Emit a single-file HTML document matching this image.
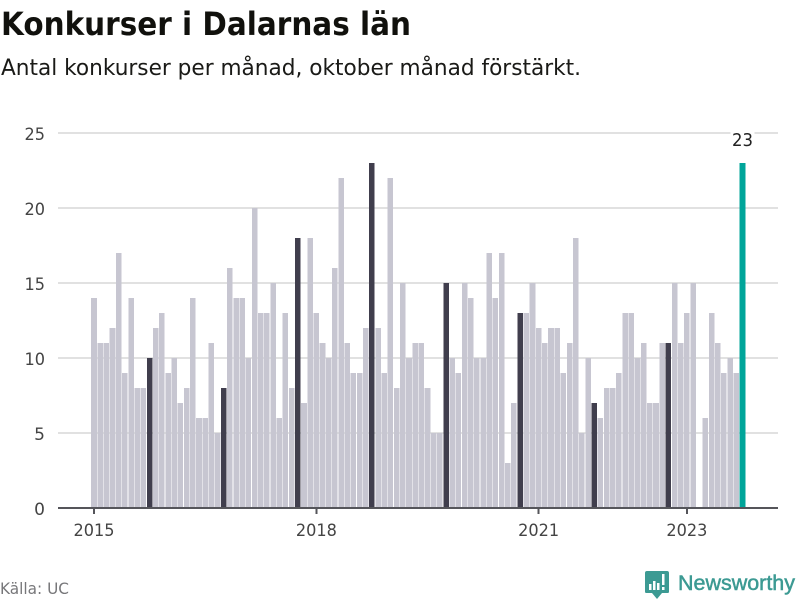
<!DOCTYPE html>
<html lang="sv">
<head>
<meta charset="utf-8">
<title>Konkurser i Dalarnas län</title>
<style>
  html, body { margin: 0; padding: 0; background: #fff; }
  svg { display: block; font-family: "DejaVu Sans", "Liberation Sans", sans-serif; }
</style>
</head>
<body>
<svg id="chart" xmlns="http://www.w3.org/2000/svg" width="800" height="600" viewBox="0 0 800 600">
  <rect width="800" height="600" fill="#ffffff"/>
  <text x="1" y="35" font-size="32" font-weight="700" fill="#11110d" textLength="410" lengthAdjust="spacingAndGlyphs">Konkurser i Dalarnas län</text>
  <text x="1" y="75" font-size="22.5" fill="#1a1a17" textLength="580" lengthAdjust="spacingAndGlyphs">Antal konkurser per månad, oktober månad förstärkt.</text>
  <g id="grid"></g>
  <g id="y-axis"></g>
  <g id="bars"></g>
  <g id="x-axis"></g>
  <g id="labels"></g>
  <text x="0" y="594" font-size="16" fill="#77777a" textLength="69" lengthAdjust="spacingAndGlyphs">Källa: UC</text>
  <g>
    <path d="M647 571 H667 Q669 571 669 573 V592 Q669 593 667 593 H662 L657 599 L652 593 H647 Q645 593 645 592 V573 Q645 571 647 571 Z" fill="#3c9a93"/>
    <rect x="649" y="584" width="2.5" height="6" fill="#ffffff"/>
    <rect x="653" y="581" width="2.5" height="9" fill="#ffffff"/>
    <rect x="657" y="583" width="2.5" height="7" fill="#ffffff"/>
    <rect x="662" y="574" width="2.5" height="11" fill="#ffffff"/>
    <rect x="662" y="587" width="2.5" height="3" fill="#ffffff"/>
    <text x="678" y="590" font-size="21" font-weight="500" fill="#3c9a93" stroke="#3c9a93" stroke-width="0.5" font-family="'Liberation Sans', sans-serif" textLength="117" lengthAdjust="spacingAndGlyphs">Newsworthy</text>
  </g>
</svg>
<script>
var months = [
  "2015-01","2015-02","2015-03","2015-04","2015-05","2015-06","2015-07","2015-08","2015-09","2015-10","2015-11","2015-12",
  "2016-01","2016-02","2016-03","2016-04","2016-05","2016-06","2016-07","2016-08","2016-09","2016-10","2016-11","2016-12",
  "2017-01","2017-02","2017-03","2017-04","2017-05","2017-06","2017-07","2017-08","2017-09","2017-10","2017-11","2017-12",
  "2018-01","2018-02","2018-03","2018-04","2018-05","2018-06","2018-07","2018-08","2018-09","2018-10","2018-11","2018-12",
  "2019-01","2019-02","2019-03","2019-04","2019-05","2019-06","2019-07","2019-08","2019-09","2019-10","2019-11","2019-12",
  "2020-01","2020-02","2020-03","2020-04","2020-05","2020-06","2020-07","2020-08","2020-09","2020-10","2020-11","2020-12",
  "2021-01","2021-02","2021-03","2021-04","2021-05","2021-06","2021-07","2021-08","2021-09","2021-10","2021-11","2021-12",
  "2022-01","2022-02","2022-03","2022-04","2022-05","2022-06","2022-07","2022-08","2022-09","2022-10","2022-11","2022-12",
  "2023-01","2023-02","2023-03","2023-04","2023-05","2023-06","2023-07","2023-08","2023-09","2023-10"
];
var bankruptcies = [
  14,11,11,12,17,9,14,8,8,10,12,13,
  9,10,7,8,14,6,6,11,5,8,16,14,
  14,10,20,13,13,15,6,13,8,18,7,18,
  13,11,10,16,22,11,9,9,12,23,12,9,
  22,8,15,10,11,11,8,5,5,15,10,9,
  15,14,10,10,17,14,17,3,7,13,13,15,
  12,11,12,12,9,11,18,5,10,7,6,8,
  8,9,13,13,10,11,7,7,11,11,15,11,
  13,15,0,6,13,11,9,10,9,23
];
var yTickValues = [0, 5, 10, 15, 20, 25];
var xTickMonths = ["2015-01", "2018-01", "2021-01", "2023-01"];
var xTickLabels = ["2015", "2018", "2021", "2023"];

var SVGNS = "http://www.w3.org/2000/svg";
var plotLeft = 58, plotRight = 778, plotBottom = 508;
var firstCenter = 94, monthStep = 6.176, barWidth = 5.56;

function xScale(index) { return firstCenter + index * monthStep; }
function yScale(value) { return plotBottom - value * 15; }
function make(tag, attrs, parent) {
  var el = document.createElementNS(SVGNS, tag);
  for (var k in attrs) { el.setAttribute(k, attrs[k]); }
  parent.appendChild(el);
  return el;
}

var gridGroup = document.getElementById("grid");
var yAxisGroup = document.getElementById("y-axis");
var barsGroup = document.getElementById("bars");
var xAxisGroup = document.getElementById("x-axis");
var labelsGroup = document.getElementById("labels");

yTickValues.forEach(function (tick) {
  if (tick > 0) {
    var line = make("rect", { x: plotLeft, y: yScale(tick) - 1, width: plotRight - plotLeft, height: 2, fill: "#e1e1e1", "shape-rendering": "crispEdges" }, gridGroup);
    
    
  }
  var attrs = { x: 45, y: yScale(tick) + 7, "text-anchor": "end", "font-size": 17, fill: "#444444" };
  if (tick >= 10) {
    attrs.textLength = 20.5;
    attrs.lengthAdjust = "spacingAndGlyphs";
  }
  var label = make("text", attrs, yAxisGroup);
  label.textContent = String(tick);
  
  
});

bankruptcies.forEach(function (value, i) {
  var isLast = i === bankruptcies.length - 1;
  var isOctober = months[i].slice(5) === "10";
  var fill = isLast ? "#00a59a" : (isOctober ? "#403e4d" : "#c7c6d1");
  var bar = make("rect", { x: xScale(i) - barWidth / 2, y: yScale(value), width: barWidth, height: plotBottom - yScale(value), fill: fill, "shape-rendering": "crispEdges" }, barsGroup);
  
  
  if (isLast) {
    var halo = make("rect", { x: xScale(i) - 12, y: 130, width: 24, height: 6, fill: "#ffffff" }, labelsGroup);
    
    
    var printed = make("text", { x: xScale(i), y: 146, "text-anchor": "middle", "font-size": 18, fill: "#222222", textLength: 21, lengthAdjust: "spacingAndGlyphs" }, labelsGroup);
    printed.textContent = String(value);
    
    
  }
});

var baseline = make("rect", { x: plotLeft, y: plotBottom - 1, width: plotRight - plotLeft, height: 2, fill: "#55555a", "shape-rendering": "crispEdges" }, xAxisGroup);



xTickMonths.forEach(function (month, t) {
  var cx = xScale(months.indexOf(month));
  var tick = make("rect", { x: cx - 1, y: plotBottom, width: 2, height: 6, fill: "#55555a", "shape-rendering": "crispEdges" }, xAxisGroup);
  
  
  var label = make("text", { x: cx, y: 536, "text-anchor": "middle", "font-size": 17, fill: "#444444", textLength: 41, lengthAdjust: "spacingAndGlyphs" }, xAxisGroup);
  label.textContent = xTickLabels[t];
  
  
});
</script>
</body>
</html>
